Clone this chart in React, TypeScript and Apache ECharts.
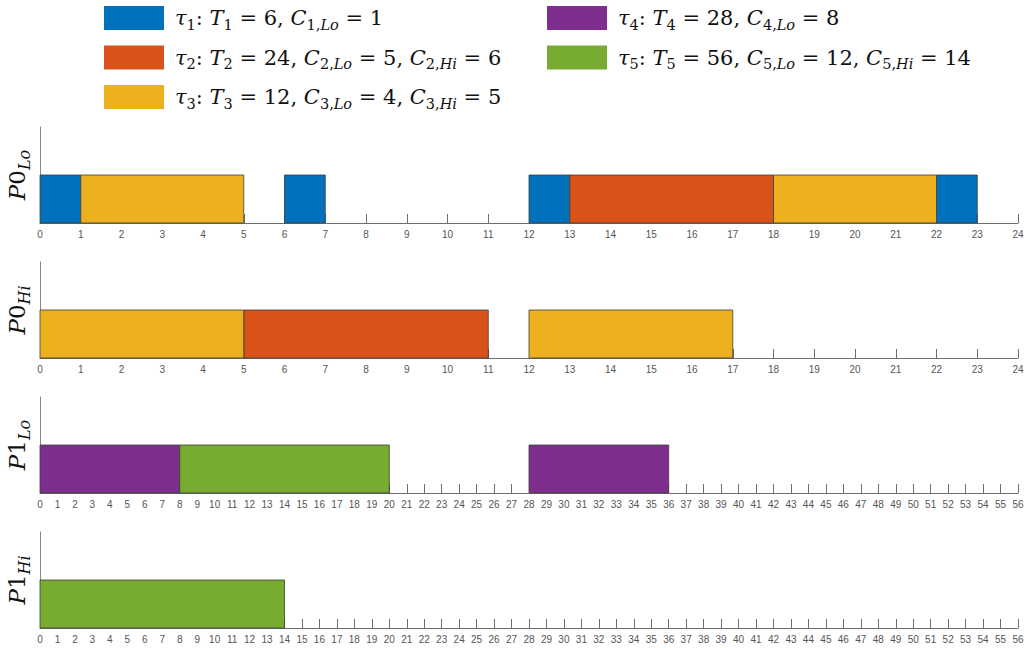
import React, { useEffect, useRef } from "react";
import * as echarts from "echarts";

// ---- data ----
const TASK_NAMES = ["τ1", "τ2", "τ3", "τ4", "τ5"];
const TASK_COLORS = ["#0072BD", "#D95319", "#EDB120", "#7E2F8E", "#77AC30"];
const LEGEND_RICH_TEXT: Record<string, string> = {
  "τ1": "{i|τ}{sn|1}{n|: }{i|T}{sn|1}{n| = 6, }{i|C}{sn|1,}{si|Lo}{n| = 1}",
  "τ2": "{i|τ}{sn|2}{n|: }{i|T}{sn|2}{n| = 24, }{i|C}{sn|2,}{si|Lo}{n| = 5, }{i|C}{sn|2,}{si|Hi}{n| = 6}",
  "τ3": "{i|τ}{sn|3}{n|: }{i|T}{sn|3}{n| = 12, }{i|C}{sn|3,}{si|Lo}{n| = 4, }{i|C}{sn|3,}{si|Hi}{n| = 5}",
  "τ4": "{i|τ}{sn|4}{n|: }{i|T}{sn|4}{n| = 28, }{i|C}{sn|4,}{si|Lo}{n| = 8}",
  "τ5": "{i|τ}{sn|5}{n|: }{i|T}{sn|5}{n| = 56, }{i|C}{sn|5,}{si|Lo}{n| = 12, }{i|C}{sn|5,}{si|Hi}{n| = 14}",
};

// [start, end, task index (1-based)]
const P0_LO_JOBS = [[0, 1, 1], [1, 5, 3], [6, 7, 1], [12, 13, 1], [13, 18, 2], [18, 22, 3], [22, 23, 1]];
const P0_HI_JOBS = [[0, 5, 3], [5, 11, 2], [12, 17, 3]];
const P1_LO_JOBS = [[0, 8, 4], [8, 20, 5], [28, 36, 4]];
const P1_HI_JOBS = [[0, 14, 5]];

const PANEL_JOBS = [P0_LO_JOBS, P0_HI_JOBS, P1_LO_JOBS, P1_HI_JOBS];
const PANEL_MAX = [24, 24, 56, 56];
const PANEL_LABELS = ["{i|P}{n|0}{si|Lo}", "{i|P}{n|0}{si|Hi}", "{i|P}{n|1}{si|Lo}", "{i|P}{n|1}{si|Hi}"];

const GRID_TOPS = [127, 262, 397, 532];
const GRID_HEIGHT = 96;

const SERIF = "'DejaVu Serif', 'Liberation Serif', serif";

export default function App() {
  const ref = useRef<HTMLDivElement>(null);
  useEffect(() => {
    if (!ref.current) return;
    const chart = echarts.init(ref.current, undefined, { renderer: "svg" });

    const legendRich = {
      i: { fontFamily: SERIF, fontStyle: "italic", fontSize: 21, lineHeight: 28, color: "#111" },
      n: { fontFamily: SERIF, fontSize: 21, lineHeight: 28, color: "#111" },
      sn: { fontFamily: SERIF, fontSize: 14.5, lineHeight: 15, verticalAlign: "bottom", color: "#111" },
      si: { fontFamily: SERIF, fontStyle: "italic", fontSize: 14.5, lineHeight: 15, verticalAlign: "bottom", color: "#111" },
    };
    const axisNameRich = {
      i: { fontFamily: SERIF, fontStyle: "italic", fontSize: 23, lineHeight: 30, color: "#111" },
      n: { fontFamily: SERIF, fontSize: 23, lineHeight: 30, color: "#111" },
      si: { fontFamily: SERIF, fontStyle: "italic", fontSize: 16, lineHeight: 15, verticalAlign: "bottom", color: "#111" },
    };

    const grids = GRID_TOPS.map((top) => ({
      left: 40,
      right: 9,
      top,
      height: GRID_HEIGHT,
      containLabel: false,
      outerBoundsMode: "none",
    }));
    const xAxes = PANEL_MAX.map((max, i) => ({
      type: "value",
      gridIndex: i,
      min: 0,
      max,
      interval: 1,
      splitLine: { show: false },
      axisLine: { show: true, lineStyle: { color: "#6e6e6e", width: 1 } },
      axisTick: { show: true, inside: true, length: 9, lineStyle: { color: "#6e6e6e" } },
      axisLabel: {
        show: true,
        color: "#555",
        fontFamily: "'Liberation Sans', Arial, sans-serif",
        fontSize: 10,
        margin: 6,
        showMinLabel: true,
        showMaxLabel: true,
        hideOverlap: false,
      },
    }));
    const yAxes = PANEL_LABELS.map((label, i) => ({
      type: "value",
      gridIndex: i,
      min: 0,
      max: 2,
      splitLine: { show: false },
      axisLine: { show: true, lineStyle: { color: "#888", width: 1 } },
      axisTick: { show: false },
      axisLabel: { show: false },
      name: label,
      nameLocation: "middle",
      nameRotate: 90,
      nameGap: 8,
      nameTextStyle: { rich: axisNameRich },
    }));

    const series: any[] = [];
    PANEL_JOBS.forEach((jobs, p) => {
      TASK_NAMES.forEach((name, t) => {
        const data = jobs.filter((j) => j[2] === t + 1).map((j) => [j[0], j[1]]);
        if (!data.length) return;
        series.push({
          type: "custom",
          name,
          xAxisIndex: p,
          yAxisIndex: p,
          itemStyle: { color: TASK_COLORS[t] },
          encode: { x: [0, 1] },
          data,
          renderItem: (params: any, api: any) => {
            const s = api.coord([api.value(0), 0]);
            const e = api.coord([api.value(1), 1]);
            return {
              type: "rect",
              shape: { x: s[0], y: e[1], width: e[0] - s[0], height: s[1] - e[1] },
              style: { fill: api.visual("color"), stroke: "#3c3c3c", lineWidth: 0.8 },
            };
          },
        });
      });
    });

    const legendBase = {
      orient: "vertical",
      top: 1,
      icon: "rect",
      itemWidth: 60,
      itemHeight: 24,
      itemGap: 13.5,
      selectedMode: false,
      formatter: (name: string) => LEGEND_RICH_TEXT[name],
      textStyle: { rich: legendRich, padding: [0, 0, 0, 6] },
    };

    chart.setOption({
      animation: false,
      backgroundColor: "#fff",
      legend: [
        { ...legendBase, left: 99, data: TASK_NAMES.slice(0, 3) },
        { ...legendBase, left: 542, data: TASK_NAMES.slice(3) },
      ],
      grid: grids,
      xAxis: xAxes,
      yAxis: yAxes,
      series,
    });
    return () => chart.dispose();
  }, []);
  return <div ref={ref} style={{ position: "absolute", left: 0, top: 0, width: 1027, height: 648 }} />;
}
